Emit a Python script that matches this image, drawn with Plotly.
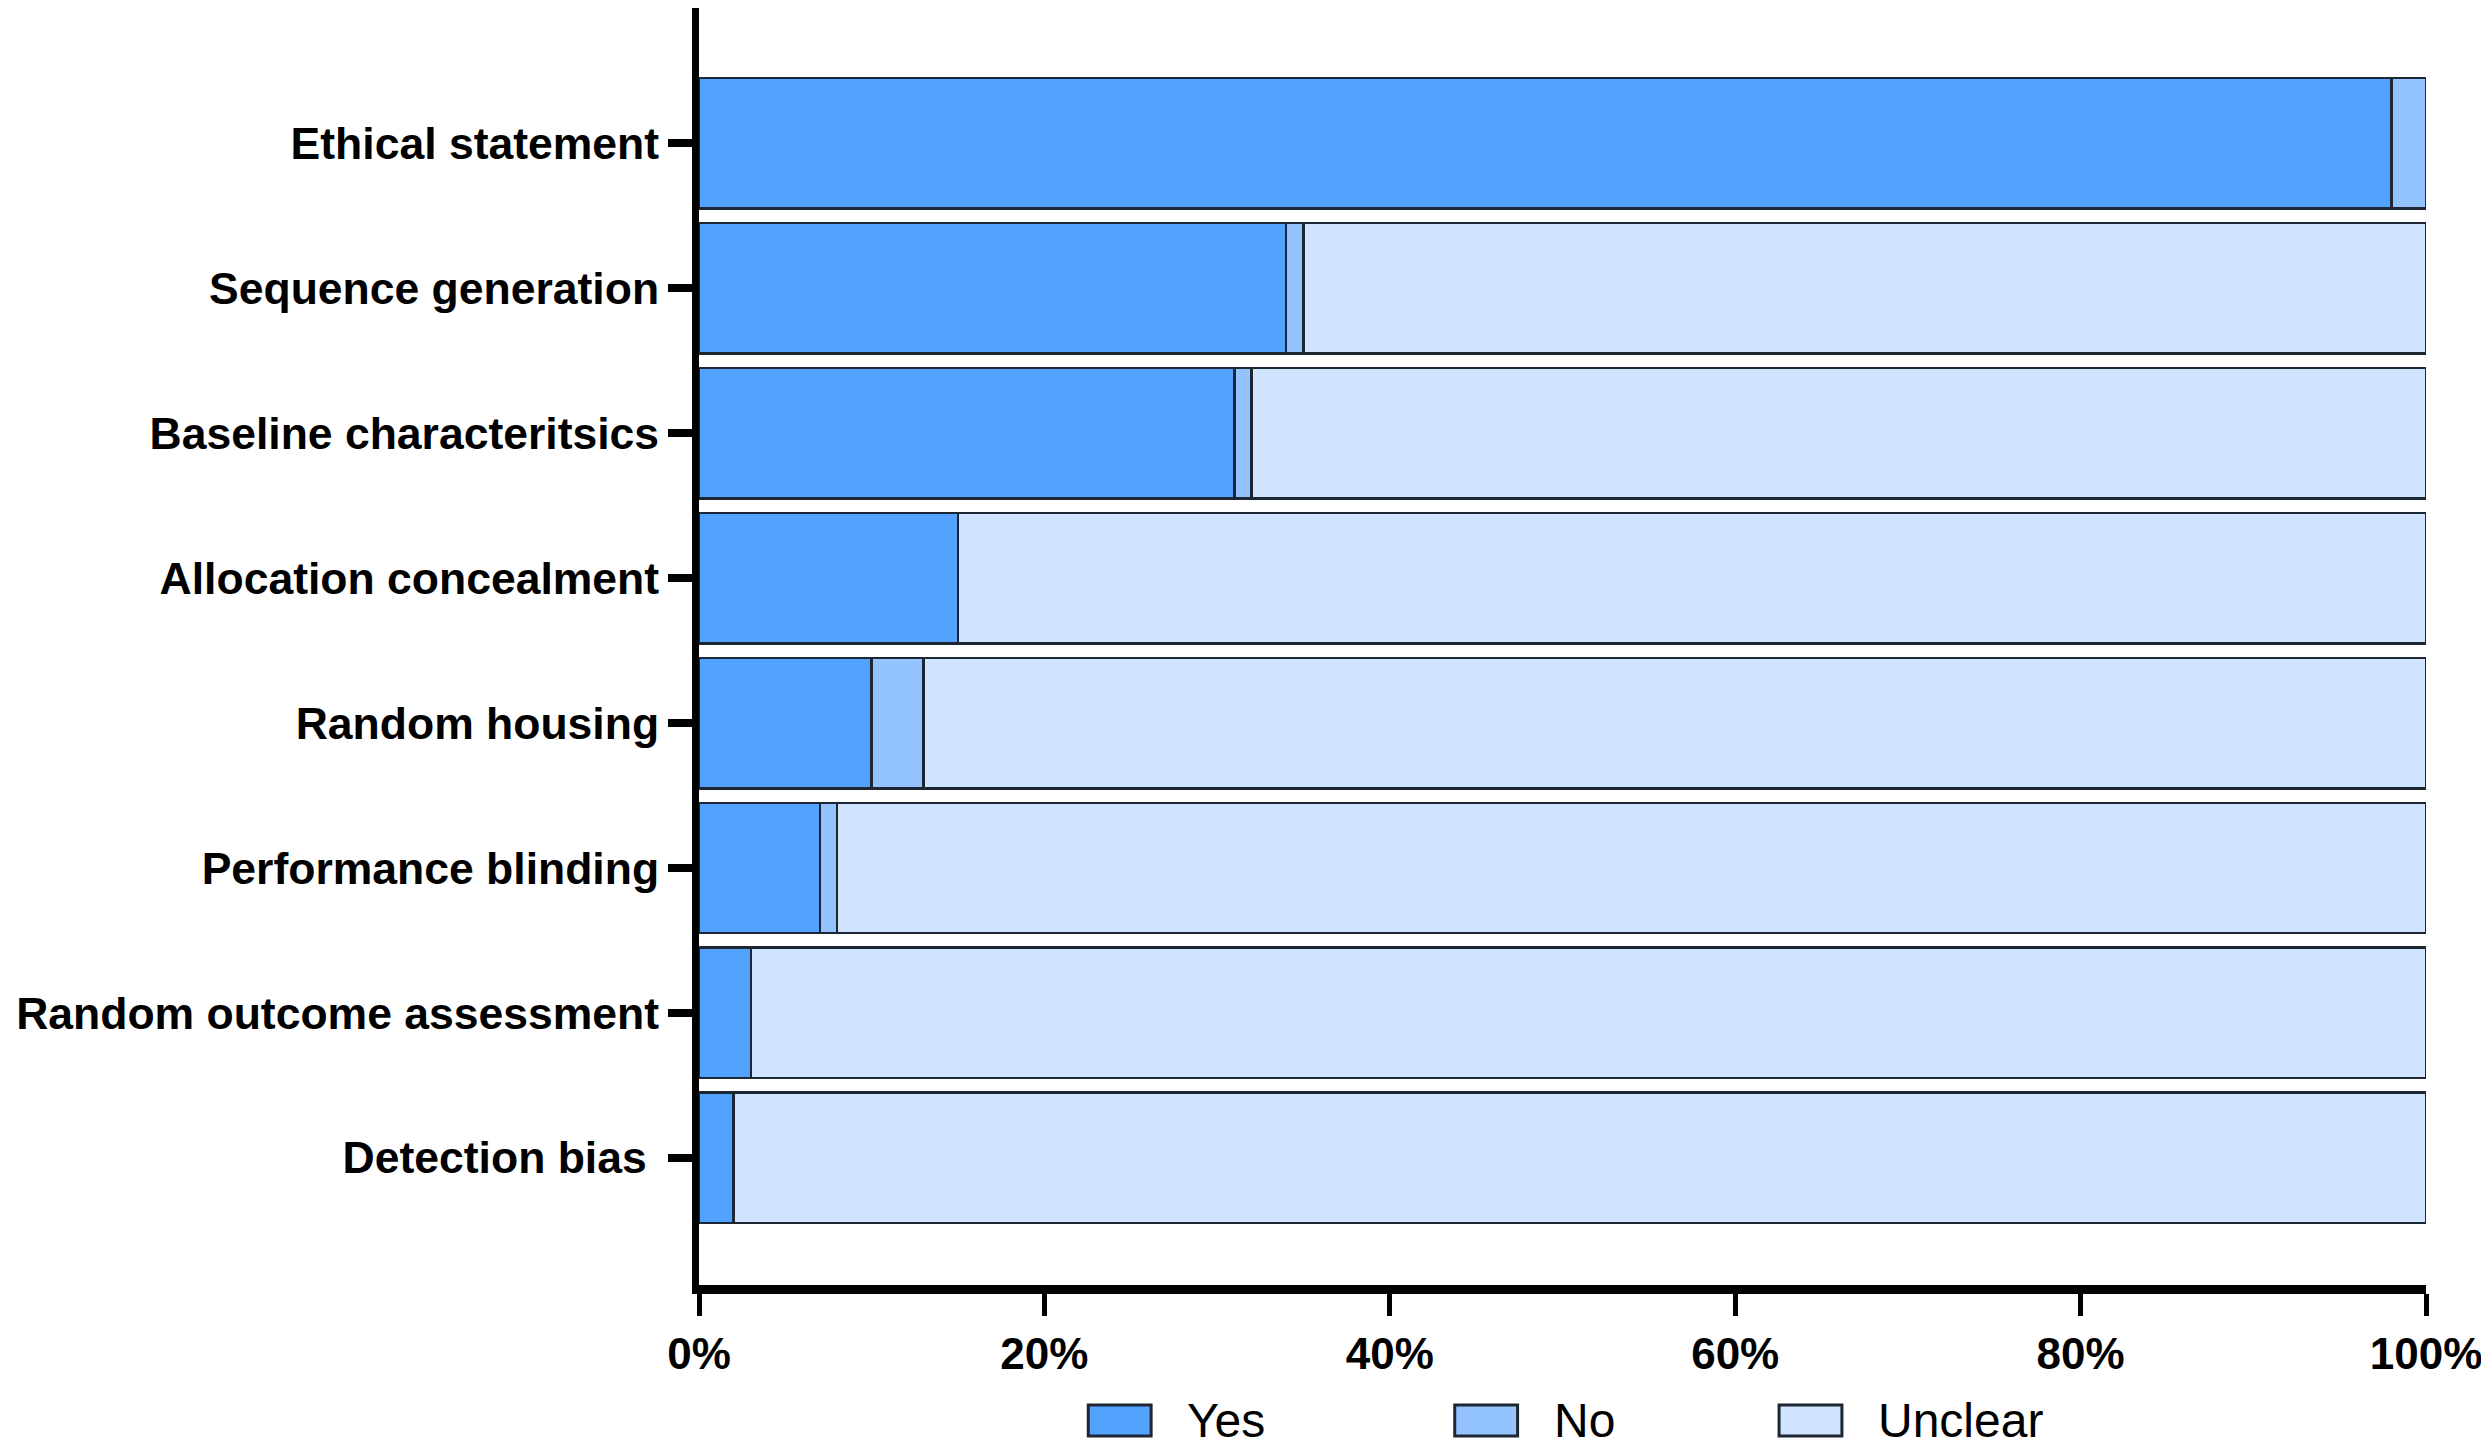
import plotly.graph_objects as go

# Risk-of-bias items (top to bottom) and percentage of studies per answer
items = [
    'Ethical statement',
    'Sequence generation',
    'Baseline characteritsics',
    'Allocation concealment',
    'Random housing',
    'Performance blinding',
    'Random outcome assessment',
    'Detection bias ',
]
yes = [98, 34, 31, 15, 10, 7, 3, 2]
no = [2, 1, 1, 0, 3, 1, 0, 0]
unclear = [0, 65, 68, 85, 87, 92, 97, 98]

series_names = ['Yes', 'No', 'Unclear']
series_colors = ['#52A2FF', '#94C4FF', '#D0E4FF']
outline = '#1d2733'

fig = go.Figure()
for name, vals, col in zip(series_names, [yes, no, unclear], series_colors):
    fig.add_trace(go.Bar(
        x=vals,
        y=items,
        orientation='h',
        name=name,
        marker=dict(color=col, line=dict(color=outline, width=2.5)),
        showlegend=False,
    ))

font_family = 'Liberation Sans, Arial, sans-serif'

fig.update_layout(
    barmode='stack',
    bargap=0.1,
    width=2489,
    height=1447,
    margin=dict(l=691, r=71, t=0, b=170, pad=0),
    plot_bgcolor='white',
    paper_bgcolor='white',
    font=dict(family=font_family, color='black'),
)

fig.update_xaxes(
    automargin=False,
    range=[0, 100],
    tickvals=[0, 20, 40, 60, 80, 100],
    ticktext=['0%', '20%', '40%', '60%', '80%', '100%'],
    showgrid=False,
    zeroline=False,
    showline=True,
    linecolor='black',
    linewidth=9,
    ticks='outside',
    ticklen=22,
    tickwidth=5,
    tickcolor='black',
    tickfont=dict(size=44, family=font_family, weight='bold', color='black'),
)

fig.update_yaxes(
    automargin=False,
    categoryorder='array',
    categoryarray=items,
    range=[7.877, -0.933],
    showgrid=False,
    zeroline=False,
    showline=True,
    linecolor='black',
    linewidth=7,
    ticks='outside',
    ticklen=24,
    tickwidth=8,
    tickcolor='black',
    tickfont=dict(size=44.5, family=font_family, weight='bold', color='black'),
)

# Legend drawn by hand so the swatches can be large boxes
legend_box_x = [0.2254, 0.4376, 0.6254]
box_w = 0.0364
for name, col, bx in zip(series_names, series_colors, legend_box_x):
    fig.add_shape(
        type='rect', xref='paper', yref='paper',
        x0=bx, x1=bx + box_w, y0=-0.0940, y1=-0.1183,
        fillcolor=col, line=dict(color=outline, width=3),
    )
    fig.add_annotation(
        x=bx + box_w + 0.0198, y=-0.1062, xref='paper', yref='paper',
        text=name, showarrow=False, xanchor='left', yanchor='middle',
        font=dict(size=48, family=font_family, color='black'),
    )

fig.write_html('out.html')
